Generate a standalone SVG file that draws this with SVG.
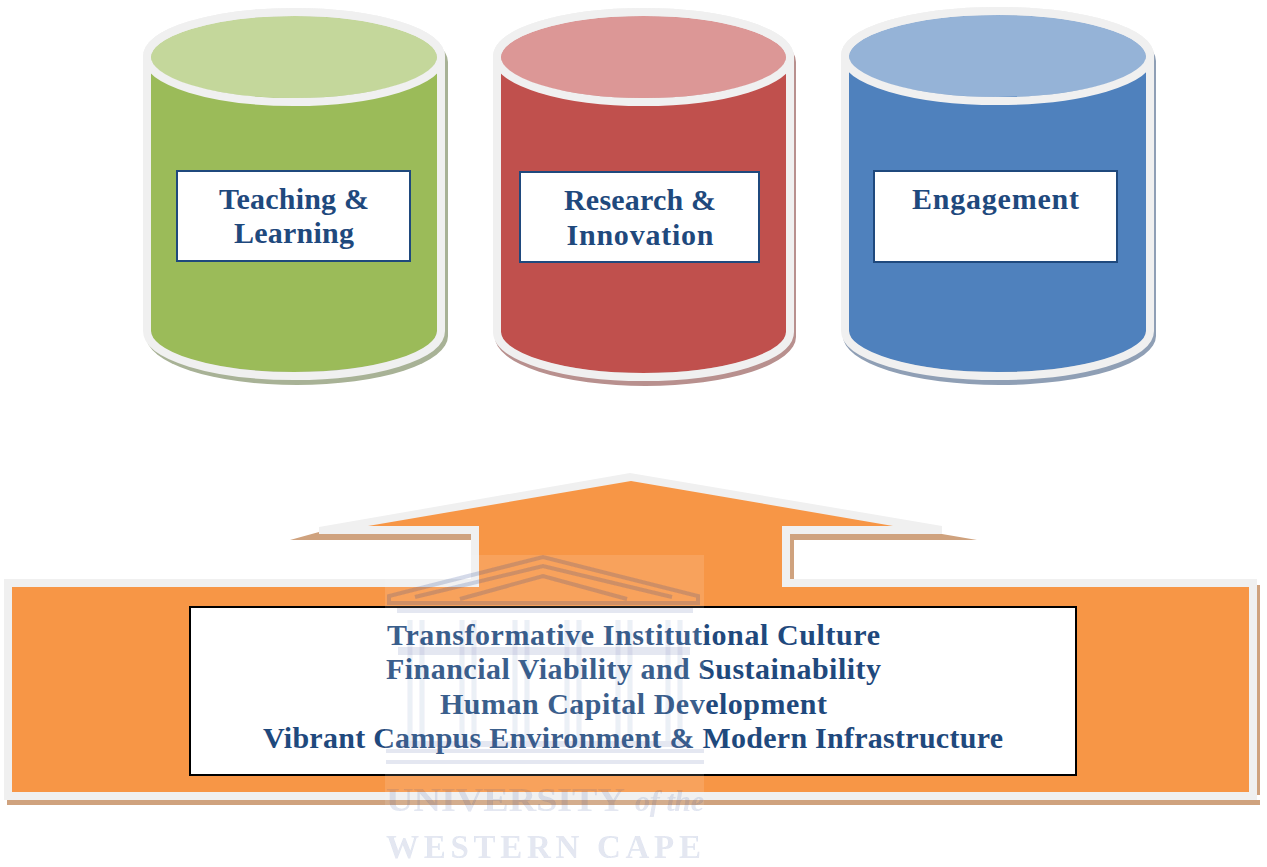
<svg xmlns="http://www.w3.org/2000/svg" width="1267" height="867" viewBox="0 0 1267 867">
<defs><filter id="soft" x="-5%" y="-5%" width="110%" height="110%"><feGaussianBlur stdDeviation="0.7"/></filter></defs>
<style>
.lbl{font-family:"Liberation Serif","DejaVu Serif",serif;font-weight:700;font-size:30px;fill:#1f497d;text-anchor:middle}
.rim{fill:none;stroke:#f0f0f0;stroke-width:8}
.box{fill:#fff;stroke:#1f497d;stroke-width:2}
.wm{fill:none;stroke:#2a3f8f;stroke-opacity:.2}
.wmc{fill:none;stroke:#2a3f8f;stroke-opacity:.08}
.wmf{fill:#2a3f8f;fill-opacity:.13}
.wmt{font-family:"Liberation Serif",serif;font-weight:700;fill:#2a3f8f;fill-opacity:.13}
</style>
<rect width="1267" height="867" fill="#fff"/>
<g id="pillar-teaching">
<path d="M143,57 A151,49 0 0 1 445,57 V331 A151,49 0 0 1 143,331 Z" transform="translate(3,5)" fill="#a8b296"/>
<path d="M151,57 A143,41 0 0 1 437,57 V331 A143,41 0 0 1 151,331 Z" fill="#9bbb59"/>
<ellipse cx="294" cy="57" rx="143" ry="41" fill="#c4d79b"/>
<path class="rim" d="M147,57 A147,45 0 0 1 441,57 V331 A147,45 0 0 1 147,331 Z"/>
<ellipse class="rim" cx="294" cy="57" rx="147" ry="45"/>
<rect class="box" x="177" y="171" width="233" height="90"/>
<text class="lbl" x="294" y="209" textLength="150">Teaching &amp;</text>
<text class="lbl" x="294" y="243" textLength="120">Learning</text>
</g>
<g id="pillar-research">
<path d="M493,57 A150.500,49 0 0 1 794,57 V332 A150.500,49 0 0 1 493,332 Z" transform="translate(2,5)" fill="#b8908e"/>
<path d="M501,57 A142.500,41 0 0 1 786,57 V332 A142.500,41 0 0 1 501,332 Z" fill="#c0504d"/>
<ellipse cx="643.500" cy="57" rx="142.500" ry="41" fill="#dc9796"/>
<path class="rim" d="M497,57 A146.500,45 0 0 1 790,57 V332 A146.500,45 0 0 1 497,332 Z"/>
<ellipse class="rim" cx="643.500" cy="57" rx="146.500" ry="45"/>
<rect class="box" x="520" y="172" width="239" height="90"/>
<text class="lbl" x="640" y="210" textLength="152">Research &amp;</text>
<text class="lbl" x="640" y="245" textLength="147">Innovation</text>
</g>
<g id="pillar-engagement">
<path d="M841,56 A156.500,49 0 0 1 1154,56 V331 A156.500,49 0 0 1 841,331 Z" transform="translate(2,5)" fill="#8f9fb5"/>
<path d="M849,56 A148.500,41 0 0 1 1146,56 V331 A148.500,41 0 0 1 849,331 Z" fill="#4f81bd"/>
<ellipse cx="997.500" cy="56" rx="148.500" ry="41" fill="#95b3d7"/>
<path class="rim" d="M845,56 A152.500,45 0 0 1 1150,56 V331 A152.500,45 0 0 1 845,331 Z"/>
<ellipse class="rim" cx="997.500" cy="56" rx="152.500" ry="45"/>
<rect class="box" x="874" y="171" width="243" height="91"/>
<text class="lbl" x="995.500" y="209" textLength="167">Engagement</text>
</g>
<g id="foundation-arrow">
<path fill="#cfa27e" d="M290,540 L319,532 H471 V540 Z M786,534 H942 L977,540 H794 V583 H790 V534 Z M7,795 H1260 V585 H1250 V800 L1260,800 V805 H7 Z"/>
<path fill="#f79646" d="M631,477 L905,526 H786 V583 H1253 V796 H8 V583 H475 V526 H357 Z"/>
<path fill="#f0f0f0" fill-rule="evenodd" d="M630,473 L942,526 V534 H790 V579 H1257 V800 H4 V579 H471 V534 H319 V527 Z M631,481 L893,526 H782 V587 H1249 V792 H12 V587 H479 V526 H368 Z"/>
<rect x="190" y="607" width="886" height="168" fill="#fff" stroke="#000" stroke-width="2"/>
<text class="lbl" x="633.500" y="645" textLength="493">Transformative Institutional Culture</text>
<text class="lbl" x="633.500" y="679" textLength="495">Financial Viability and Sustainability</text>
<text class="lbl" x="633.500" y="714" textLength="387">Human Capital Development</text>
<text class="lbl" x="633" y="748" textLength="740">Vibrant Campus Environment &amp; Modern Infrastructure</text>
</g>
<g id="watermark">
<rect x="385" y="555" width="319" height="305" fill="#fff" fill-opacity=".12"/>
<g filter="url(#soft)">
<path class="wm" stroke-width="4" d="M389,603 V596 L543,557 L698,596 V603 Z"/>
<path class="wm" stroke-width="4" d="M415,597 L543,566 L672,597"/>
<path class="wm" stroke-width="4" d="M460,599 L543,576 L627,599"/>
<path class="wmf" d="M397,608 H693 V613 H397 Z M398,647 H690 V655 H398 Z"/>
<path class="wmc" stroke-width="5" d="M410,620 V741 M422,620 V741 M462,620 V741 M474,620 V741 M515,620 V741 M527,620 V741 M567,620 V741 M579,620 V741 M618,620 V741 M630,620 V741 M668,620 V741 M680,620 V741"/>
<path class="wmf" fill-opacity=".08" d="M398,741 H690 V747 H398 Z M386,749 H704 V753 H386 Z M386,760 H704 V764 H386 Z"/>
<text class="wmt" x="386" y="811" font-size="33" textLength="239" lengthAdjust="spacingAndGlyphs">UNIVERSITY</text>
<text class="wmt" x="635" y="811" font-size="30" font-style="italic" textLength="69">of the</text>
<text class="wmt" x="386" y="858" font-size="33" textLength="315">WESTERN CAPE</text>
</g>
</g>
</svg>
